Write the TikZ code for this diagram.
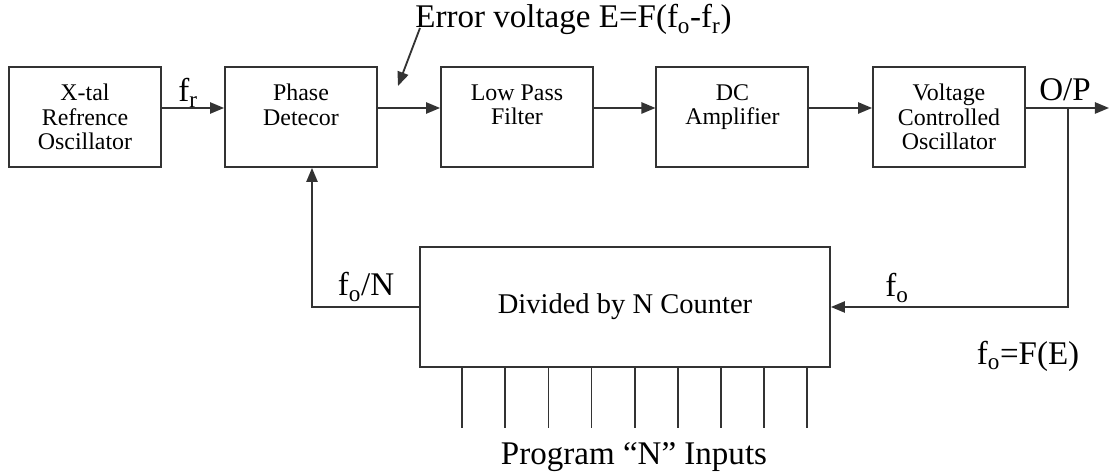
\documentclass[tikz,border=0pt]{standalone}
\usepackage{fontspec}
\setmainfont{Liberation Serif}
\usetikzlibrary{arrows.meta}

\begin{document}
\begin{tikzpicture}[>={Triangle[length=10pt,width=8pt]}, line width=1.3pt,
    box/.style={draw=black!80, minimum width=3.8cm, minimum height=2.5cm, align=center, font=\fontsize{17}{17.5}\selectfont},
    lbl/.style={font=\fontsize{23.5}{26}\selectfont, inner sep=1pt}]
    \useasboundingbox (0,0) rectangle (27.8,11.875);

    % forward chain
    \node[box] (xtal) at (2.125,8.95) {X-tal\\Refrence\\Oscillator};
    \node[box] (pd) at (7.525,8.95) {Phase\\Detecor\\~};
    \node[box] (lpf) at (12.925,8.95) {Low Pass\\Filter\\~};
    \node[box] (amp) at (18.31,8.95) {DC\\Amplifier\\~};
    \node[box] (vco) at (23.725,8.95) {Voltage\\Controlled\\Oscillator};

    \node[box, minimum width=10.25cm, minimum height=3cm, font=\fontsize{20.3}{22}\selectfont] (cnt) at (15.625,4.2) {Divided by N Counter};

    \draw[->, black!80] ([yshift=2.25mm]xtal.east) -- ([yshift=2.25mm]pd.west);
    \draw[->, black!80] ([yshift=2.25mm]pd.east) -- ([yshift=2.25mm]lpf.west);
    \draw[->, black!80] ([yshift=2.25mm]lpf.east) -- ([yshift=2.25mm]amp.west);
    \draw[->, black!80] ([yshift=2.25mm]amp.east) -- ([yshift=2.25mm]vco.west);

    % output and feedback
    \coordinate (out) at (27.725,9.175);
    \coordinate (tap) at (26.7,9.175);
    \draw[->, black!80] ([yshift=2.25mm]vco.east) -- (out);
    \draw[->, black!80] (tap) |- (cnt.east);
    \draw[->, black!80] (cnt.west) -| ([xshift=2.75mm]pd.south);

    % program inputs
    \foreach \i in {1,...,9}
        \draw[black!80] ([xshift=\i*1.078cm]cnt.south west) -- ++(0,-1.5);

    % labels
    \node[lbl] (fr) at (4.7,9.55) {f\textsubscript{r}};
    \node[lbl] (op) at (26.625,9.625) {O/P};
    \node[lbl] (fo) at (22.425,4.675) {f\textsubscript{o}};
    \node[lbl] (foN) at (9.15,4.7) {f\textsubscript{o}/N};
    \node[lbl] (foE) at (25.7,2.975) {f\textsubscript{o}=F(E)};
    \node[lbl] (prog) at (15.85,0.45) {Program “N” Inputs};

    \node[lbl, anchor=base west] (err) at (10.325,11.175) {Error voltage E=F(f\textsubscript{o}-f\textsubscript{r})};
    \coordinate (etip) at (9.95,9.725);
    \draw[->, black!80] ([xshift=1.75mm]err.base west) -- (etip);
\end{tikzpicture}
\end{document}
